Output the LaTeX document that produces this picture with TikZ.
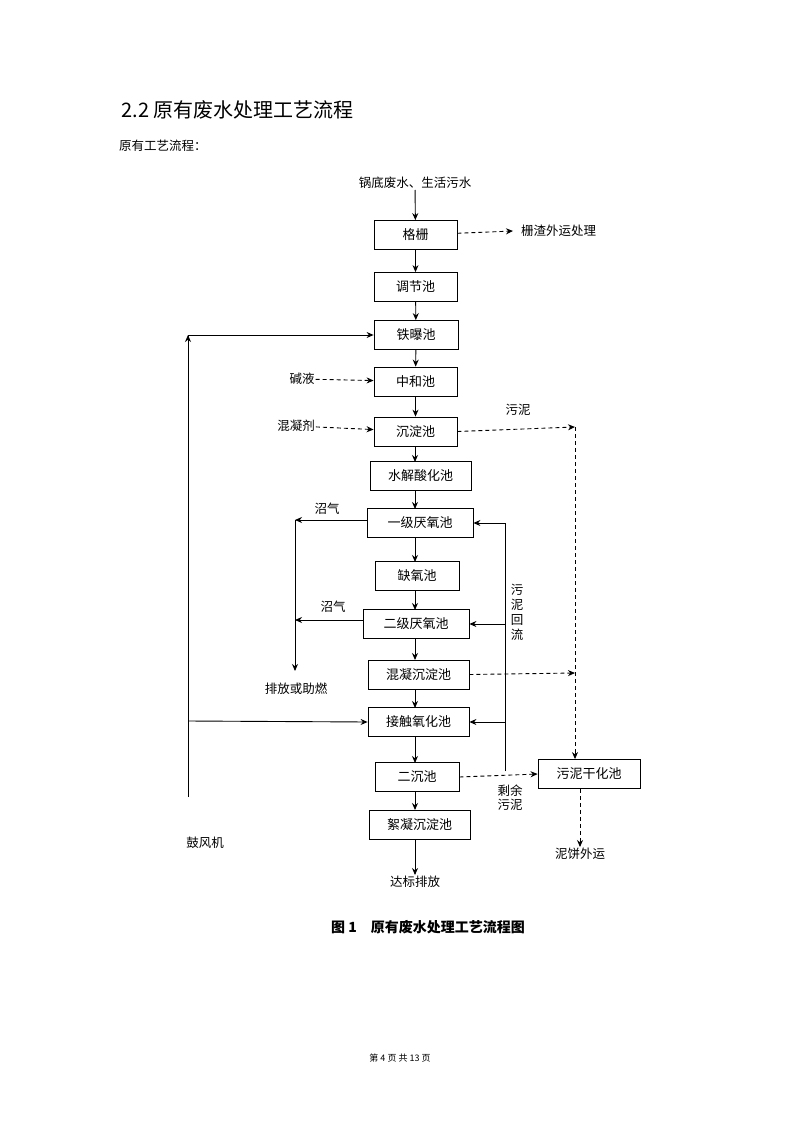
\documentclass[tikz,border=0pt]{standalone}
\usepackage{fontspec}
\setmainfont{Liberation Serif}
\newfontfamily\cjk{Noto Sans CJK SC}
\usetikzlibrary{arrows.meta}
\begin{document}
\begin{tikzpicture}[x=1pt,y=-1pt,
  box/.style={draw,line width=0.8pt,minimum height=29pt,inner sep=0pt,font=\cjk\fontsize{13}{13}\selectfont},
  lab/.style={font=\cjk\fontsize{12.5}{14}\selectfont,inner sep=1pt},
  ar/.style={line width=0.9pt,-{Stealth[length=7pt,width=6pt]}},
  da/.style={ar,dashed,dash pattern=on 4pt off 3pt},
  ln/.style={line width=0.9pt}]
\useasboundingbox (0,0) rectangle (800,1131);
\node[anchor=west,font=\cjk\fontsize{20}{20}\selectfont] (t) at (118,110) {2.2 原有废水处理工艺流程};
\node[anchor=west,lab] (t2) at (118,146) {原有工艺流程：};
% boxes
\node[box,minimum width=83pt] (gs) at (415.5,235) {格栅};
\node[box,minimum width=83pt] (tj) at (415.5,287) {调节池};
\node[box,minimum width=84pt] (tb) at (416,335) {铁曝池};
\node[box,minimum width=83pt] (zh) at (415.5,381.5) {中和池};
\node[box,minimum width=83pt] (cd) at (415.5,431.5) {沉淀池};
\node[box,minimum width=101pt] (sj) at (420.5,476) {水解酸化池};
\node[box,minimum width=106pt] (y1) at (420,523) {一级厌氧池};
\node[box,minimum width=84pt] (qy) at (417,576) {缺氧池};
\node[box,minimum width=106pt] (y2) at (416,624) {二级厌氧池};
\node[box,minimum width=101pt] (hn) at (418.5,674.5) {混凝沉淀池};
\node[box,minimum width=101pt] (jc) at (418.5,722) {接触氧化池};
\node[box,minimum width=84pt] (ec) at (417,777) {二沉池};
\node[box,minimum width=101pt] (xn) at (419.5,824.5) {絮凝沉淀池};
\node[box,minimum width=102pt] (wg) at (589,774) {污泥干化池};
% labels
\node[lab] (src) at (415,183) {锅底废水、生活污水};
\node[lab,anchor=west] (zz) at (520,231) {栅渣外运处理};
\node[lab] (jy) at (302,379) {碱液};
\node[lab] (hnj) at (296,426) {混凝剂};
\node[lab] (wn1) at (518,410) {污泥};
\node[lab] (zq1) at (327,509) {沼气};
\node[lab] (zq2) at (333,607) {沼气};
\node[lab] (pf) at (296,689) {排放或助燃};
\node[lab,align=center] (wnhl) at (517,612) {污\\[1pt]泥\\[1pt]回\\[1pt]流};
\node[lab,align=center] (sy) at (510,798) {剩余\\污泥};
\node[lab] (gf) at (205,843) {鼓风机};
\node[lab] (db) at (415,882) {达标排放};
\node[lab] (nb) at (580,854) {泥饼外运};
\node[font=\cjk\bfseries\fontsize{14}{14}\selectfont] (cap) at (428,927) {图 1\quad 原有废水处理工艺流程图};
\node[font=\cjk\fontsize{9}{9}\selectfont] (ft) at (400,1058) {第 4 页 共 13 页};
\coordinate (zzL) at (513,231);
\coordinate (b0) at (188,797);
\coordinate (b1) at (188,721);
\coordinate (b2) at (188,335);
\coordinate (g1) at (295,520);
\coordinate (g2) at (295,620);
\coordinate (g3) at (295,671);
\coordinate (r0) at (505,771);
\coordinate (r1) at (505,523);
\coordinate (r2) at (505,624);
\coordinate (r3) at (505,722);
\coordinate (s1) at (575,427);
\coordinate (s2) at (575,673);
\coordinate (s3) at (575,760);
% main flow
\draw[ar] (src) -- (gs);
\draw[ar] (gs) -- (tj);
\draw[ar] (tj) -- (tb);
\draw[ar] (tb) -- (zh);
\draw[ar] (zh) -- (cd);
\draw[ar] (cd.south -| 415,0) -- (415,462);
\draw[ar] (415,490) -- (415,509);
\draw[ar] (415,537) -- (415,562);
\draw[ar] (415,590) -- (415,610);
\draw[ar] (415,638) -- (415,660);
\draw[ar] (415,689) -- (415,708);
\draw[ar] (415,736) -- (415,763);
\draw[ar] (415,791) -- (415,810);
\draw[ar] (xn.south -| 415,0) -- (db);
\draw[da] (gs) -- (zzL);
\draw[da] (jy) -- (zh);
\draw[da] (hnj) -- (cd);
% blower
\draw[ln] (b0) -- (b2);
\draw[ar] (b2) -- (tb.west);
\draw[ar] (b1) -- (jc.west);
\draw[ar] ([yshift=-2pt]b2) -- (b2);
% biogas
\draw[ar] (y1.west |- g1) -- (g1);
\draw[ar] (y2.west |- g2) -- (g2);
\draw[ar] (g1) -- (g3);
% sludge return
\draw[ln] (r0) -- (r1);
\draw[ar] (r1) -- (y1.east);
\draw[ar] (r2) -- (y2.east);
\draw[ar] (r3) -- (jc.east);
\draw[da] (ec.east) -- (wg.west);
% sludge dashed
\draw[da] (cd.east) -- (s1);
\draw[da] (hn.east) -- (s2);
\draw[ln,dashed,dash pattern=on 4pt off 3pt] (s1) -- (575,750);
\draw[da] (575,750) -- (wg.north -| 575,0);
\draw[da] (wg.south -| 580,0) -- (nb);
\end{tikzpicture}
\end{document}
